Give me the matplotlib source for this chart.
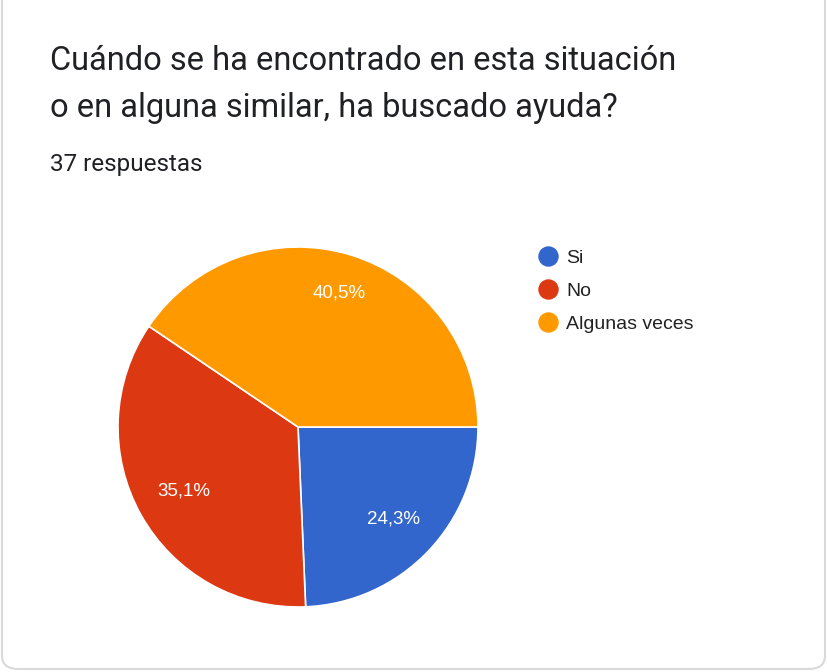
import matplotlib.pyplot as plt
from matplotlib.patches import FancyBboxPatch
from matplotlib.lines import Line2D

labels = ["Si", "No", "Algunas veces"]
values = [24.3, 35.1, 40.5]
colors = ["#3366CC", "#DC3912", "#FF9900"]
title_lines = ["Cuándo se ha encontrado en esta situación",
               "o en alguna similar, ha buscado ayuda?"]
subtitle = "37 respuestas"

W, H = 828, 672
fig = plt.figure(figsize=(W / 100, H / 100), dpi=100)
fig.patch.set_facecolor("white")

# card border
card = FancyBboxPatch((2 / W, 3 / H), (W - 5) / W, (H + 20) / H,
                      boxstyle="round,pad=0,rounding_size=0.02",
                      transform=fig.transFigure, facecolor="white",
                      edgecolor="#D9D9D9", linewidth=1.5, zorder=-5)
fig.patches.append(card)

fig.text(50 / W, 1 - 69.5 / H, title_lines[0], fontsize=23.5, family="Roboto",
         color="#202124", va="baseline")
fig.text(50 / W, 1 - 117.5 / H, title_lines[1], fontsize=23.5, family="Roboto",
         color="#202124", va="baseline")
fig.text(50 / W, 1 - 170.5 / H, subtitle, fontsize=17.5, family="Roboto",
         color="#202124", va="baseline")

# pie axes: center (298, 427), radius 180 px
cx, cy, r = 298, 427, 180
ax = fig.add_axes([(cx - r) / W, 1 - (cy + r) / H, 2 * r / W, 2 * r / H])
wedges, texts, autotexts = ax.pie(
    values, colors=colors, startangle=0, counterclock=False,
    autopct=lambda p: f"{p:.1f}%".replace(".", ","), pctdistance=1.0,
    wedgeprops=dict(edgecolor="white", linewidth=1.2),
    textprops=dict(color="white", fontsize=13.5, family="Liberation Sans"))
# label distance from centre, per slice
for t, d in zip(autotexts, [0.738, 0.729, 0.776]):
    x, y = t.get_position()
    t.set_position((x * d, y * d))
ax.set_aspect("equal")
ax.set_xlim(-1, 1)
ax.set_ylim(-1, 1)

handles = [Line2D([], [], marker="o", linestyle="", markersize=13.7,
                  markerfacecolor=c, markeredgecolor=c) for c in colors]
fig.legend(handles, labels, loc="upper left",
           bbox_to_anchor=(536 / W, 1 - 249.5 / H), frameon=False,
           prop=dict(family="Liberation Sans", size=14),
           labelspacing=0.78, handletextpad=0.36, handlelength=1.2,
           borderaxespad=0, borderpad=0, labelcolor="#222222")

fig.savefig("out.png", dpi=100, facecolor="white")
